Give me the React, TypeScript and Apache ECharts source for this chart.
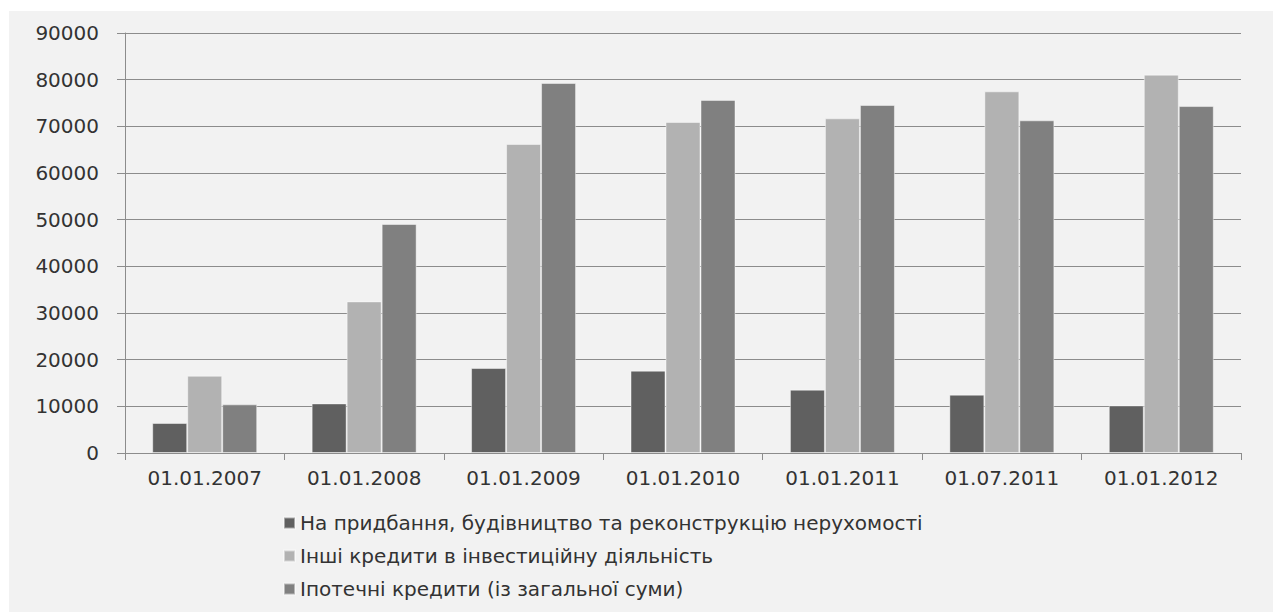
import React, { useEffect, useRef } from "react";
import * as echarts from "echarts";

const categories = ["01.01.2007", "01.01.2008", "01.01.2009", "01.01.2010", "01.01.2011", "01.07.2011", "01.01.2012"];
const seriesNames = [
  "На придбання, будівництво та реконструкцію нерухомості",
  "Інші кредити в інвестиційну діяльність",
  "Іпотечні кредити (із загальної суми)",
];
const purchaseValues = [6430, 10630, 18210, 17640, 13570, 12500, 10200];
const otherValues = [16560, 32490, 66230, 70940, 71710, 77500, 81070];
const mortgageValues = [10420, 49070, 79290, 75660, 74570, 71290, 74350];
const colors = ["#606060", "#b2b2b2", "#808080"];

export default function App() {
  const ref = useRef<HTMLDivElement>(null);
  useEffect(() => {
    document.body.style.margin = "0";
    const chart = echarts.init(ref.current!, null, { renderer: "svg" });
    const font = "DejaVu Sans";
    const mk = (name: string, data: number[], color: string) => ({
      name,
      type: "bar",
      data,
      barWidth: 35,
      barGap: "0%",
      itemStyle: { color, borderColor: "rgba(255,255,255,0.45)", borderWidth: 1 },
    });
    chart.setOption({
      animation: false,
      backgroundColor: "#ffffff",
      textStyle: { fontFamily: font },
      graphic: [
        {
          type: "rect",
          z: -10,
          silent: true,
          shape: { x: 9, y: 11, width: 1264, height: 601 },
          style: { fill: "#f2f2f2" },
        },
      ],
      grid: { left: 125, right: 35, top: 33, bottom: 159, containLabel: false },
      legend: {
        orient: "vertical",
        left: 278,
        top: 508,
        itemWidth: 11,
        itemHeight: 11,
        itemGap: 13,
        icon: "rect",
        textStyle: { fontFamily: font, fontSize: 20, color: "#333" },
        data: seriesNames,
      },
      xAxis: {
        type: "category",
        data: categories,
        axisLine: { lineStyle: { color: "#8c8c8c", width: 1 } },
        axisTick: { show: true, length: 7, lineStyle: { color: "#8c8c8c" } },
        axisLabel: { margin: 15, fontFamily: font, fontSize: 20, color: "#333" },
      },
      yAxis: {
        type: "value",
        min: 0,
        max: 90000,
        interval: 10000,
        axisLine: { show: true, lineStyle: { color: "#8c8c8c", width: 1 } },
        axisTick: { show: true, length: 8, lineStyle: { color: "#8c8c8c" } },
        axisLabel: {
          margin: 26,
          fontFamily: font,
          fontSize: 20,
          color: "#333",
          formatter: (v: number) => String(v),
        },
        splitLine: { lineStyle: { color: "#8c8c8c", width: 1 } },
      },
      series: [
        mk(seriesNames[0], purchaseValues, colors[0]),
        mk(seriesNames[1], otherValues, colors[1]),
        mk(seriesNames[2], mortgageValues, colors[2]),
      ],
    });
    return () => chart.dispose();
  }, []);
  return <div ref={ref} style={{ width: 1276, height: 612 }} />;
}
